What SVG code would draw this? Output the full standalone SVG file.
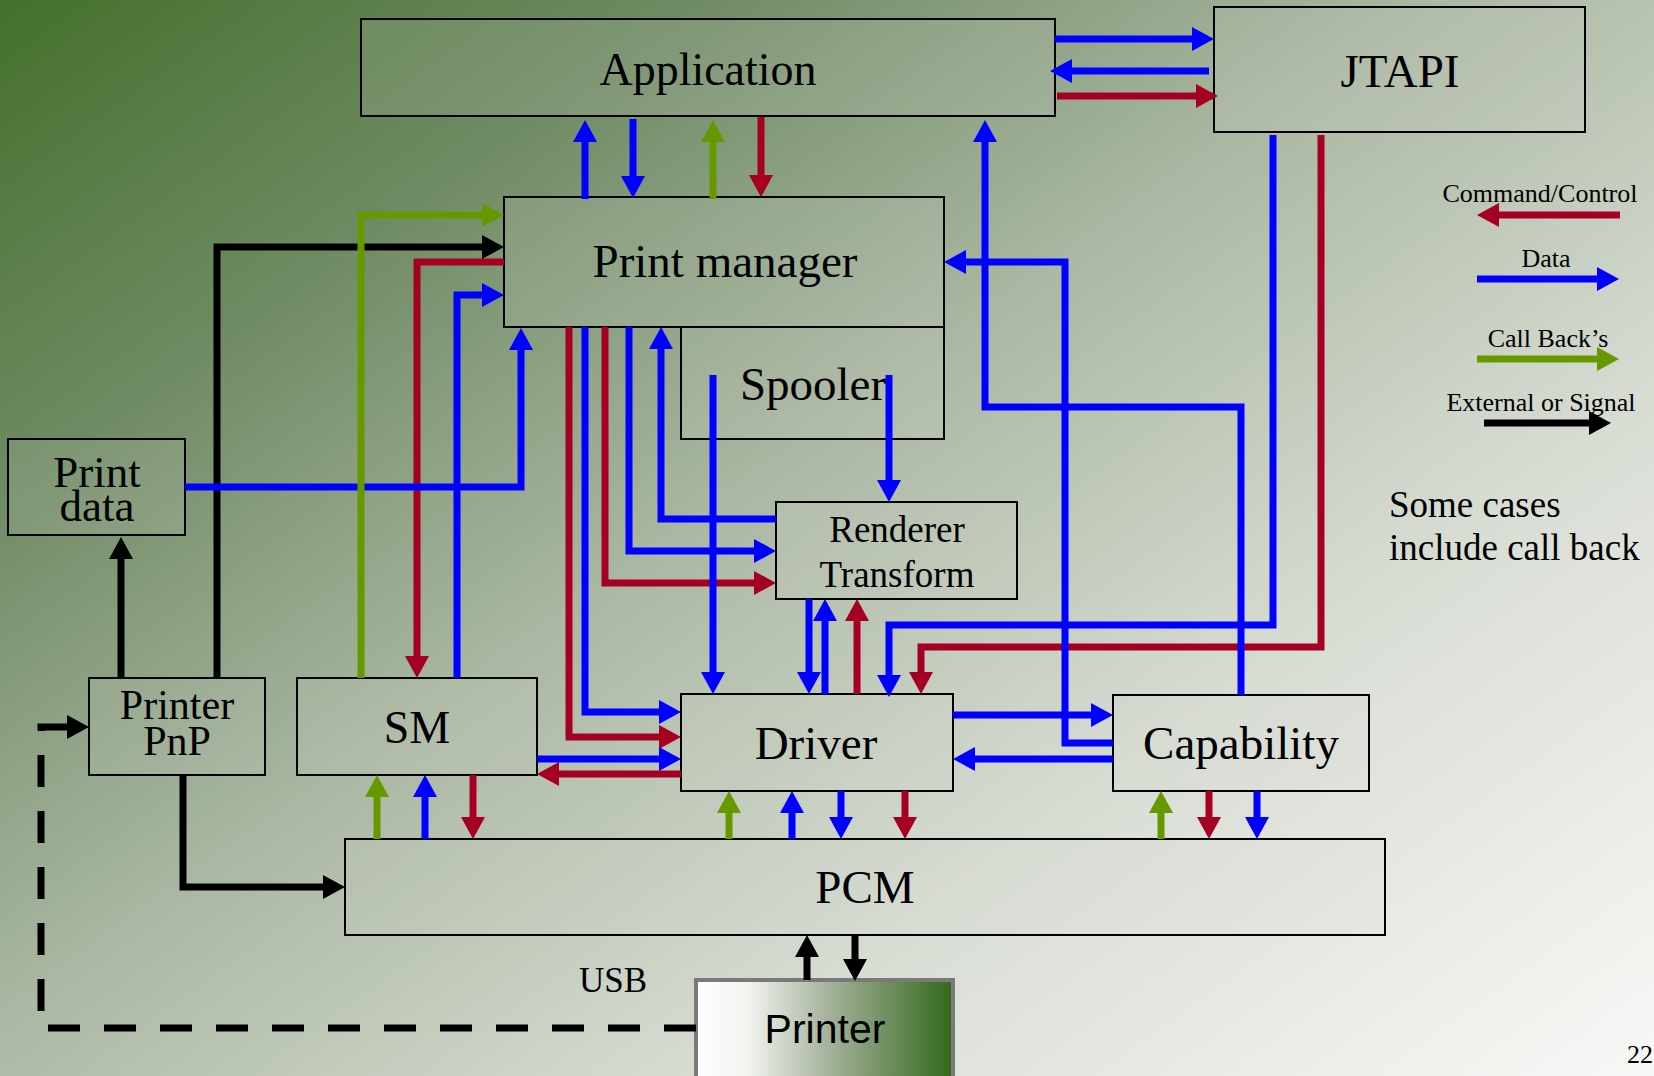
<svg xmlns="http://www.w3.org/2000/svg" width="1654" height="1076" viewBox="0 0 1654 1076">
<defs>
<linearGradient id="bg" gradientUnits="userSpaceOnUse" x1="0" y1="0" x2="1067" y2="1494">
<stop offset="0" stop-color="#44702c"/>
<stop offset="0.22" stop-color="#6f8b64"/>
<stop offset="0.45" stop-color="#aab7a2"/>
<stop offset="0.7" stop-color="#d8ddd4"/>
<stop offset="1" stop-color="#f8f8f6"/>
</linearGradient>
<linearGradient id="prn" x1="0" y1="0" x2="1" y2="0">
<stop offset="0" stop-color="#ffffff"/>
<stop offset="0.2" stop-color="#f2f4f0"/>
<stop offset="0.5" stop-color="#a9b5a0"/>
<stop offset="1" stop-color="#33681a"/>
</linearGradient>
<marker id="aB" markerWidth="22" markerHeight="24" refX="3" refY="12" orient="auto" markerUnits="userSpaceOnUse" viewBox="0 0 22 24"><path d="M0,0 L22,12 L0,24 z" fill="#0000ff"/></marker>
<marker id="aR" markerWidth="22" markerHeight="24" refX="3" refY="12" orient="auto" markerUnits="userSpaceOnUse" viewBox="0 0 22 24"><path d="M0,0 L22,12 L0,24 z" fill="#a50021"/></marker>
<marker id="aG" markerWidth="22" markerHeight="24" refX="3" refY="12" orient="auto" markerUnits="userSpaceOnUse" viewBox="0 0 22 24"><path d="M0,0 L22,12 L0,24 z" fill="#669900"/></marker>
<marker id="aK" markerWidth="22" markerHeight="24" refX="3" refY="12" orient="auto" markerUnits="userSpaceOnUse" viewBox="0 0 22 24"><path d="M0,0 L22,12 L0,24 z" fill="#000000"/></marker>
</defs>
<style>
.box{fill:#d4d9d0;fill-opacity:0.15;stroke:#000;stroke-width:2}
.t{font-family:"Liberation Serif","Times New Roman",serif;fill:#000;text-anchor:middle}
.c{fill:none;stroke-width:7;stroke-linejoin:miter}
.b{stroke:#0000ff;marker-end:url(#aB)}
.r{stroke:#a50021;marker-end:url(#aR)}
.g{stroke:#669900;marker-end:url(#aG)}
.k{stroke:#000;marker-end:url(#aK)}
.nb{stroke:#0000ff}
</style>
<rect x="0" y="0" width="1654" height="1076" fill="url(#bg)"/>

<g id="application"><rect class="box" x="361" y="19" width="694" height="97"/><text class="t" x="708" y="85" font-size="46">Application</text></g>
<g id="jtapi"><rect class="box" x="1214" y="7" width="371" height="125"/><text class="t" x="1400" y="87" font-size="47">JTAPI</text></g>
<g id="print-manager"><rect class="box" x="504" y="197" width="440" height="130"/><text class="t" x="725" y="277" font-size="47">Print manager</text></g>
<g id="spooler"><rect class="box" x="681" y="327" width="263" height="112"/><text class="t" x="813" y="400" font-size="47">Spooler</text></g>
<g id="renderer"><rect class="box" x="776" y="502" width="241" height="97"/><text class="t" x="897" y="542" font-size="37">Renderer</text><text class="t" x="897" y="587" font-size="37">Transform</text></g>
<g id="print-data"><rect class="box" x="8" y="439" width="177" height="96"/><text class="t" x="97" y="487" font-size="45">Print</text><text class="t" x="97" y="521" font-size="45">data</text></g>
<g id="printer-pnp"><rect class="box" x="89" y="678" width="176" height="97"/><text class="t" x="177" y="719" font-size="42">Printer</text><text class="t" x="177" y="755" font-size="42">PnP</text></g>
<g id="sm"><rect class="box" x="297" y="678" width="240" height="97"/><text class="t" x="417" y="743" font-size="46">SM</text></g>
<g id="driver"><rect class="box" x="681" y="694" width="272" height="97"/><text class="t" x="816" y="759" font-size="47">Driver</text></g>
<g id="capability"><rect class="box" x="1113" y="695" width="256" height="96"/><text class="t" x="1241" y="759" font-size="47">Capability</text></g>
<g id="pcm"><rect class="box" x="345" y="839" width="1040" height="96"/><text class="t" x="865" y="903" font-size="47">PCM</text></g>
<g id="printer"><rect x="696" y="980" width="257" height="104" fill="url(#prn)" stroke="#7a7a7a" stroke-width="4"/><text x="825" y="1043" font-size="41" font-family="'Liberation Sans',Arial,sans-serif" text-anchor="middle">Printer</text></g>

<g id="connectors">
<path class="c k" d="M217,678 V247 H485"/>
<path class="c k" d="M121,678 V556"/>
<path class="c k" d="M183,775 V887 H326"/>
<path class="c k" d="M807,980 V954"/>
<path class="c k" d="M855,935 V962"/>
<path class="c k" d="M696,1028 H41 V727 H70" stroke-dasharray="32 24"/>

<path class="c r" d="M1057,96 H1199"/>
<path class="c r" d="M761,117 V178"/>
<path class="c r" d="M1321,135 V647 H921 V675"/>
<path class="c r" d="M504,262 H417 V659"/>
<path class="c r" d="M681,774 H556"/>
<path class="c r" d="M569,327 V737 H662"/>
<path class="c r" d="M605,327 V583 H757"/>
<path class="c r" d="M857,694 V618"/>
<path class="c r" d="M473,775 V820"/>
<path class="c r" d="M905,791 V820"/>
<path class="c r" d="M1209,791 V820"/>

<path class="c b" d="M1055,39 H1195"/>
<path class="c b" d="M1209,71 H1069"/>
<path class="c b" d="M585,199 V139"/>
<path class="c b" d="M633,119 V179"/>
<path class="c b" d="M1241,695 V407 H985 V139"/>
<path class="c b" d="M1113,743 H1065 V262 H963"/>
<path class="c b" d="M1273,135 V625 H889 V678"/>
<path class="c b" d="M457,678 V295 H485"/>
<path class="c b" d="M185,487 H521 V347"/>
<path class="c b" d="M537,759 H662"/>
<path class="c b" d="M585,327 V712 H662"/>
<path class="c b" d="M629,327 V551 H757"/>
<path class="c b" d="M776,519 H661 V346"/>
<path class="c b" d="M713,375 V675"/>
<path class="c b" d="M889,375 V483"/>
<path class="c b" d="M809,599 V675"/>
<path class="c b" d="M825,694 V618"/>
<path class="c b" d="M953,715 H1094"/>
<path class="c b" d="M1113,759 H972"/>
<path class="c b" d="M425,839 V794"/>
<path class="c b" d="M792,839 V810"/>
<path class="c b" d="M841,791 V820"/>
<path class="c b" d="M1257,791 V820"/>

<path class="c g" d="M713,199 V139"/>
<path class="c g" d="M361,678 V215 H485"/>
<path class="c g" d="M377,839 V794"/>
<path class="c g" d="M729,839 V810"/>
<path class="c g" d="M1161,839 V810"/>
</g>

<g id="legend">
<text class="t" x="1540" y="202" font-size="26">Command/Control</text>
<path class="c r" d="M1620,215 H1496"/>
<text class="t" x="1546" y="267" font-size="26">Data</text>
<path class="c b" d="M1477,279 H1600"/>
<text class="t" x="1548" y="347" font-size="26">Call Back’s</text>
<path class="c g" d="M1477,359 H1600"/>
<text class="t" x="1541" y="411" font-size="26">External or Signal</text>
<path class="c k" d="M1484,423 H1592"/>
</g>

<text x="1389" y="517" font-size="37" font-family="'Liberation Serif','Times New Roman',serif">Some cases</text>
<text x="1389" y="560" font-size="37" font-family="'Liberation Serif','Times New Roman',serif">include call back</text>
<text x="579" y="992" font-size="35" font-family="'Liberation Serif','Times New Roman',serif">USB</text>
<text x="1627" y="1063" font-size="26" font-family="'Liberation Serif','Times New Roman',serif">22</text>
</svg>
